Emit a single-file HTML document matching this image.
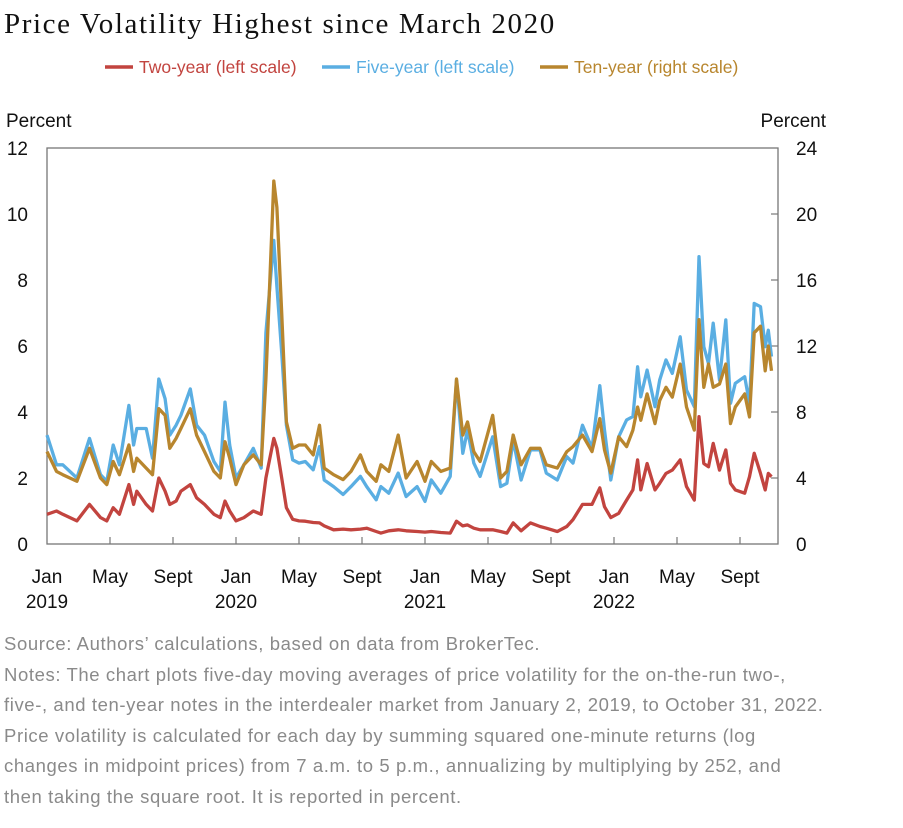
<!DOCTYPE html>
<html><head><meta charset="utf-8">
<style>
html,body{margin:0;padding:0;background:#fff;}
body{width:903px;height:828px;overflow:hidden;position:relative;font-family:"Liberation Sans",sans-serif;}
.title{position:absolute;left:4px;top:8px;font-family:"Liberation Serif",serif;font-size:29px;letter-spacing:1.6px;color:#111;white-space:nowrap;}
.notes{position:absolute;left:4px;top:629px;width:900px;font-size:18.5px;letter-spacing:0.6px;line-height:30.5px;color:#8a8a8a;white-space:nowrap;}
</style></head>
<body>
<div class="title">Price Volatility Highest since March 2020</div>
<svg id="chart" width="903" height="620" style="position:absolute;left:0;top:0"></svg>
<div class="notes">Source: Authors’ calculations, based on data from BrokerTec.<br>Notes: The chart plots five-day moving averages of price volatility for the on-the-run two-,<br>five-, and ten-year notes in the interdealer market from January 2, 2019, to October 31, 2022.<br>Price volatility is calculated for each day by summing squared one-minute returns (log<br>changes in midpoint prices) from 7 a.m. to 5 p.m., annualizing by multiplying by 252, and<br>then taking the square root. It is reported in percent.</div>
<script>
// months since Jan 2019
const months = [0,0.6,1.0,1.9,2.7,3.4,3.8,4.2,4.6,5.2,5.5,5.7,6.3,6.7,7.1,7.5,7.8,8.2,8.5,9.1,9.5,10.0,10.6,11.0,11.3,11.6,12.0,12.5,13.1,13.6,13.9,14.4,14.6,14.9,15.2,15.6,16.0,16.4,16.9,17.3,17.6,18.2,18.8,19.3,19.9,20.3,20.9,21.2,21.7,22.3,22.8,23.5,24.0,24.4,25.0,25.6,26.0,26.4,26.7,27.1,27.5,28.3,28.8,29.2,29.6,30.1,30.7,31.3,31.7,32.4,33.0,33.4,34.0,34.6,35.1,35.4,35.8,36.3,36.8,37.2,37.5,37.7,38.1,38.6,38.9,39.3,39.7,40.2,40.6,41.1,41.4,41.7,42.0,42.3,42.7,43.1,43.4,43.7,44.3,44.6,44.9,45.3,45.6,45.8,46.0];
const fiveYear = [3.3,2.4,2.4,2.0,3.2,2.1,1.9,3.0,2.4,4.2,3.0,3.5,3.5,2.6,5.0,4.4,3.3,3.6,3.9,4.7,3.6,3.3,2.5,2.2,4.3,3.0,2.0,2.4,2.9,2.3,6.4,9.2,7.8,5.8,3.6,2.55,2.45,2.5,2.25,2.95,1.94,1.74,1.5,1.74,2.05,1.74,1.34,1.74,1.54,2.15,1.44,1.74,1.29,1.94,1.54,2.05,4.97,2.75,3.45,2.45,2.05,3.25,1.74,1.84,3.15,1.94,2.85,2.85,2.15,1.94,2.65,2.45,3.6,2.9,4.8,3.45,1.94,3.25,3.76,3.86,5.37,4.46,5.27,4.16,4.97,5.58,5.17,6.28,4.67,4.16,8.71,5.98,5.47,6.69,4.97,6.79,4.26,4.87,5.07,4.26,7.29,7.19,5.98,6.48,5.68];
const tenYear = [5.6,4.4,4.2,3.8,5.8,4.0,3.6,5.0,4.2,6.0,4.4,5.2,4.6,4.2,8.2,7.8,5.8,6.4,7.0,8.2,6.6,5.6,4.4,4.0,6.2,5.2,3.6,4.8,5.4,4.8,10,22.0,20.4,14,7.4,5.8,6.0,6.0,5.4,7.2,4.6,4.2,3.9,4.4,5.4,4.4,3.8,4.8,4.4,6.6,4.0,5.0,3.8,5.0,4.4,4.6,10.0,6.6,7.4,5.6,5.0,7.8,4.0,4.4,6.6,4.8,5.8,5.8,4.8,4.6,5.6,5.9,6.6,5.6,7.6,5.7,4.3,6.5,5.9,6.9,8.3,7.5,9.1,7.3,8.7,9.5,8.9,10.9,8.3,6.9,13.6,9.5,10.9,9.5,9.7,10.9,7.3,8.3,9.1,7.7,12.8,13.2,10.5,12.0,10.5];
const twoYear = [0.9,1.0,0.9,0.7,1.2,0.8,0.7,1.1,0.9,1.8,1.2,1.6,1.2,1.0,2.0,1.6,1.2,1.3,1.6,1.8,1.4,1.2,0.9,0.8,1.3,1.0,0.7,0.8,1.0,0.9,2.0,3.2,2.9,2.0,1.1,0.75,0.7,0.69,0.65,0.64,0.55,0.43,0.45,0.43,0.45,0.48,0.38,0.33,0.4,0.43,0.4,0.38,0.36,0.38,0.35,0.33,0.69,0.55,0.58,0.48,0.43,0.43,0.38,0.33,0.64,0.4,0.64,0.53,0.48,0.38,0.53,0.74,1.2,1.2,1.7,1.13,0.8,0.93,1.33,1.64,2.55,1.64,2.44,1.64,1.84,2.14,2.24,2.55,1.74,1.33,3.86,2.44,2.34,3.05,2.24,2.85,1.84,1.64,1.54,2.04,2.75,2.14,1.64,2.14,2.04];
const leftTicks = [0,2,4,6,8,10,12];
const rightTicks = [0,4,8,12,16,20,24];
const xTickMonths = [0,4,8,12,16,20,24,28,32,36,40,44];
const xTickLabels = ["Jan","May","Sept","Jan","May","Sept","Jan","May","Sept","Jan","May","Sept"];
const yearLabels = {0:"2019",12:"2020",24:"2021",36:"2022"};

const L=47,R=778,T=148,B=544;
const x = m => L + m*15.75;
const yL = v => B - v*(B-T)/12;
const yR = v => B - v*(B-T)/24;
const svg = document.getElementById('chart');
const NS="http://www.w3.org/2000/svg";
function mk(tag, attrs){const e=document.createElementNS(NS,tag);for(const k in attrs)e.setAttribute(k,attrs[k]);svg.appendChild(e);return e;}

const frame = mk('rect',{x:L,y:T,width:R-L,height:B-T,fill:'none',stroke:'#777','stroke-width':1.3});



leftTicks.forEach(v=>{
  const t=mk('text',{x:28,y:yL(v)+7,'text-anchor':'end','font-size':19,fill:'#111','font-family':'Liberation Sans, sans-serif'});
  t.textContent=v;
  
  
});
rightTicks.forEach(v=>{
  const t=mk('text',{x:796,y:yR(v)+7,'font-size':19,fill:'#111','font-family':'Liberation Sans, sans-serif'});
  t.textContent=v;
  
  
  if(v>0&&v<24){
    const tk=mk('line',{x1:R-7,x2:R,y1:yR(v),y2:yR(v),stroke:'#777','stroke-width':1.2});
    
    
  }
});
xTickMonths.forEach((m,i)=>{
  if(m>0){
    const tk=mk('line',{x1:x(m),x2:x(m),y1:B-7,y2:B,stroke:'#777','stroke-width':1.2});
    
    
  }
  const t=mk('text',{x:x(m),y:583,'text-anchor':'middle','font-size':19,fill:'#111','font-family':'Liberation Sans, sans-serif'});
  t.textContent=xTickLabels[i];
  
  
  if(yearLabels[m]){
    const y=mk('text',{x:x(m),y:608,'text-anchor':'middle','font-size':19,fill:'#111','font-family':'Liberation Sans, sans-serif'});
    y.textContent=yearLabels[m];
    
    
  }
});
const pl=mk('text',{x:6,y:127,'font-size':19,fill:'#111','font-family':'Liberation Sans, sans-serif'});
pl.textContent='Percent';


const pr=mk('text',{x:826,y:127,'text-anchor':'end','font-size':19,fill:'#111','font-family':'Liberation Sans, sans-serif'});
pr.textContent='Percent';



function series(vals, yf, color, name){
  const d=vals.map((v,i)=>(i?'L':'M')+x(months[i]).toFixed(1)+','+yf(v).toFixed(1)).join(' ');
  const p=mk('path',{d:d,fill:'none',stroke:color,'stroke-width':3.3,'stroke-linejoin':'round'});
  
  
}
series(fiveYear,yL,'#5aaee2','five-year-line');
series(tenYear,yR,'#b8862e','ten-year-line');
series(twoYear,yL,'#c2443f','two-year-line');

const legend=[['Two-year (left scale)','#c2443f',105,'legend-two-year'],['Five-year (left scale)','#5aaee2',322,'legend-five-year'],['Ten-year (right scale)','#b8862e',540,'legend-ten-year']];
legend.forEach(l=>{
  const ln=mk('line',{x1:l[2],x2:l[2]+28,y1:67,y2:67,stroke:l[1],'stroke-width':3.5});
  
  
  const t=mk('text',{x:l[2]+34,y:73,'font-size':17.5,fill:l[1],'font-family':'Liberation Sans, sans-serif'});
  t.textContent=l[0];
  
  
});
</script>
</body></html>
